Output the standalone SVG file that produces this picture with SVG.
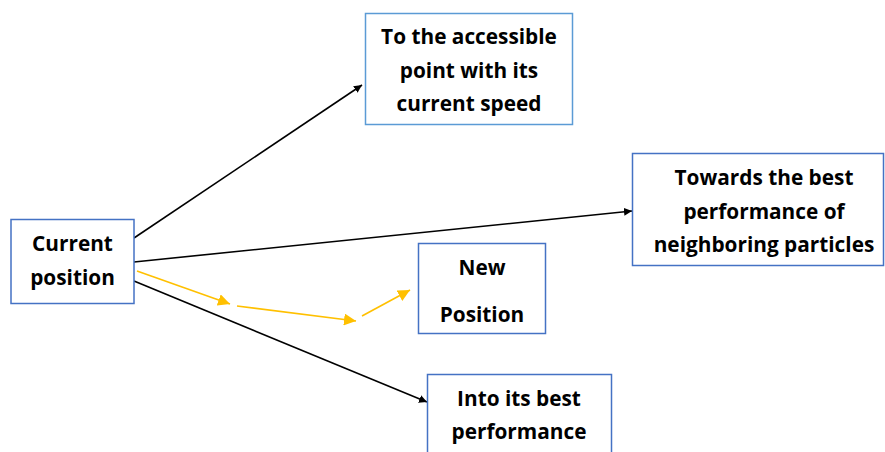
<svg xmlns="http://www.w3.org/2000/svg" width="885" height="452" viewBox="0 0 885 452">
<style>
.box{fill:#fff;stroke:#4472C4;stroke-width:1.5}
.box2{fill:#fff;stroke:#5B9BD5;stroke-width:1.5}
.t{font-family:"Open Sans","Liberation Sans",sans-serif;font-weight:bold;font-size:20.8px;fill:#000;text-anchor:middle}
.k{stroke:#000;stroke-width:1.6;fill:none}
.y{stroke:#FFC000;stroke-width:1.6;fill:none}
</style>
<defs>
<marker id="ak" viewBox="0 0 10 10" refX="10" refY="5" markerWidth="8" markerHeight="8" markerUnits="userSpaceOnUse" orient="auto"><path d="M0,0 L10,5 L0,10 z" fill="#000"/></marker>
<marker id="ay" viewBox="0 0 10 10" refX="10" refY="5" markerWidth="12" markerHeight="12" markerUnits="userSpaceOnUse" orient="auto"><path d="M0,0 L10,5 L0,10 z" fill="#FFC000"/></marker>
</defs>
<rect width="885" height="452" fill="#fff"/>
<g id="connectors">
<line class="k" x1="134" y1="238" x2="362" y2="85" marker-end="url(#ak)"/>
<line class="k" x1="134" y1="262" x2="632" y2="211" marker-end="url(#ak)"/>
<line class="k" x1="134" y1="281" x2="427" y2="402" marker-end="url(#ak)"/>
<line class="y" x1="137" y1="271" x2="230" y2="304" marker-end="url(#ay)"/>
<line class="y" x1="237" y1="306" x2="356" y2="321" marker-end="url(#ay)"/>
<line class="y" x1="362" y1="316" x2="410" y2="290" marker-end="url(#ay)"/>
</g>
<g id="current">
<rect class="box" x="11" y="219.5" width="123" height="84"/>
<text class="t" x="72.5" y="251">Current</text>
<text class="t" x="72.5" y="285">position</text>
</g>
<g id="accessible">
<rect class="box2" x="365.5" y="13.5" width="207" height="111"/>
<text class="t" x="469" y="44">To the accessible</text>
<text class="t" x="469" y="78">point with its</text>
<text class="t" x="469" y="111">current speed</text>
</g>
<g id="neighbors">
<rect class="box" x="632.5" y="153.5" width="251" height="112"/>
<text class="t" x="764" y="185">Towards the best</text>
<text class="t" x="764" y="219">performance of</text>
<text class="t" x="764" y="252">neighboring particles</text>
</g>
<g id="newpos">
<rect class="box" x="418.5" y="243.5" width="127" height="90"/>
<text class="t" x="482" y="275">New</text>
<text class="t" x="482" y="322">Position</text>
</g>
<g id="best">
<rect class="box" x="427.5" y="374.5" width="184" height="90"/>
<text class="t" x="519" y="406">Into its best</text>
<text class="t" x="519" y="439">performance</text>
</g>
</svg>
